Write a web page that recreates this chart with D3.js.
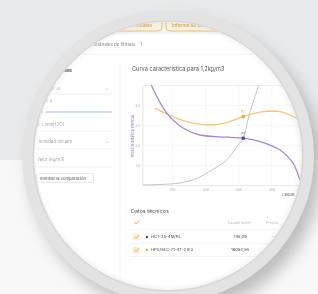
<!DOCTYPE html>
<html>
<head>
<meta charset="utf-8">
<script src="https://cdn.jsdelivr.net/npm/d3@7"></script>
<style>
  html, body { margin: 0; padding: 0; background: #f8f8f8; }
  svg { display: block; font-family: Inter, "Open Sans", sans-serif; }
</style>
</head>
<body>
<div id="chart"></div>
<script>
// chart data
const xTicks = [100, 200, 300, 400];
const yTicks = [1, 2, 3, 4];
const fanHCT = [[37, 5.0], [84, 3.59], [133, 2.85], [184, 2.5], [265, 2.39], [315, 2.34], [366, 2.17], [426, 1.75], [465, 1.1], [486, 0.25]];
const fanHPX = [[48, 3.84], [84, 3.55], [144, 3.17], [214, 3.0], [265, 3.12], [315, 3.42], [375, 3.67], [426, 3.67], [466, 3.42], [500, 3.1]];
const systemCurve = [[12, 0], [70, 0.03], [124, 0.1], [175, 0.33], [205, 0.6], [240, 0.95], [265, 1.25], [293, 1.85], [315, 2.35], [329, 3.25], [344, 4.1], [362, 5.0]];
const opPoints = [{ key: "HCT", label: "P1", v: [315, 2.34] }, { key: "HPX", label: "P2", v: [315, 3.42] }];
const extraDot = [268, 2.39];
const tableNames = ["HCT-25-4M/PL", "HPX/SEC-71-4T-2 IE3"];
const tableCaudal = ["748,09", "16054,56"];
const tablePresion = ["-", ""];
const tableKeys = ["HCT", "HPX"];
const formFields = ["Punto de diseño", "Presión estática (mmH2O)", "Densidad del aire", "Valor (kg/m3)"];

const W = 318, H = 294;
const cx = 168, cy = 156, rOut = 146, rIn = 134;
const colors = { HCT: "#a386da", HPX: "#f7c57a", sys: "#c2c2c2", HCTdark: "#5a3d9e", HPXdark: "#f0a53a" };

const svg = d3.select("#chart").append("svg").attr("width", W).attr("height", H);
const defs = svg.append("defs");

const shadow = defs.append("filter").attr("id", "shadow").attr("x", "-30%").attr("y", "-30%").attr("width", "160%").attr("height", "160%");
shadow.append("feGaussianBlur").attr("stdDeviation", 8);
const soft = defs.append("filter").attr("id", "soft");
soft.append("feGaussianBlur").attr("stdDeviation", 0.35);
const inner = defs.append("filter").attr("id", "inner").attr("x", "-20%").attr("y", "-20%").attr("width", "140%").attr("height", "140%");
inner.append("feGaussianBlur").attr("stdDeviation", 3);

defs.append("clipPath").attr("id", "lens").append("circle").attr("cx", cx).attr("cy", cy).attr("r", rIn);

// background outside the lens
svg.append("rect").attr("width", W).attr("height", H).attr("fill", "#f8f8f8");
svg.append("rect").attr("width", W).attr("height", 160).attr("fill", "#e9eaeb");

// lens frame
svg.append("circle").attr("cx", cx + 8).attr("cy", cy + 10).attr("r", rOut)
  .attr("fill", "#8c8c8c").attr("opacity", 0.55).attr("filter", "url(#shadow)");
svg.append("circle").attr("cx", cx).attr("cy", cy).attr("r", rOut).attr("fill", "#e3e3e3");
svg.append("circle").attr("cx", cx).attr("cy", cy).attr("r", rIn + 1).attr("fill", "none")
  .attr("stroke", "#d4d4d4").attr("stroke-width", 1);

const lens = svg.append("g").attr("clip-path", "url(#lens)");
lens.append("circle").attr("cx", cx).attr("cy", cy).attr("r", rIn).attr("fill", "#fff");

const ui = lens.append("g").attr("filter", "url(#soft)");

// header band with tabs
ui.append("rect").attr("x", 0).attr("y", 0).attr("width", W).attr("height", 34).attr("fill", "#f2f2f2");
ui.append("rect").attr("x", 40).attr("y", 13).attr("width", 122).attr("height", 18).attr("rx", 4)
  .attr("fill", "#fbf4e4").attr("stroke", "#e8b455").attr("stroke-width", 0.8);
ui.append("rect").attr("x", 166).attr("y", 13).attr("width", 110).attr("height", 18).attr("rx", 4)
  .attr("fill", "#fbf4e4").attr("stroke", "#e8b455").attr("stroke-width", 0.8);
ui.append("text").attr("x", 152).attr("y", 26.5).attr("text-anchor", "end")
  .attr("font-size", 4.6).attr("font-weight", 600).attr("fill", "#dca23c").text("Comparar modelo");
ui.append("text").attr("x", 172).attr("y", 26.5)
  .attr("font-size", 4.6).attr("font-weight", 600).attr("fill", "#dca23c").text("Informe de selección");

// filter row
ui.append("text").attr("x", 93).attr("y", 46).attr("font-size", 4.4).attr("fill", "#808080").text("Umbrales de filtrado");
ui.append("text").attr("x", 140).attr("y", 46).attr("font-size", 4.4).attr("fill", "#5b86d6").text("1");
ui.append("rect").attr("x", 60).attr("y", 51.5).attr("width", 8).attr("height", 1).attr("fill", "#5b86d6");
ui.append("line").attr("x1", 20).attr("x2", 310).attr("y1", 54.5).attr("y2", 54.5).attr("stroke", "#eeeeee").attr("stroke-width", 0.6);

// left form panel
ui.append("line").attr("x1", 120).attr("x2", 120).attr("y1", 60).attr("y2", 294).attr("stroke", "#ededed").attr("stroke-width", 0.6);
ui.append("text").attr("x", 72).attr("y", 72).attr("text-anchor", "end").attr("font-size", 5.2)
  .attr("font-weight", 700).attr("fill", "#444").text("Datos iniciales");

const fieldY = [90, 126, 143, 161];
const lineY = [94, 131, 149, 167];
formFields.forEach((f, i) => {
  ui.append("text").attr("x", i === 0 ? 60 : (i === 1 ? 64 : 37)).attr("y", fieldY[i])
    .attr("text-anchor", i < 2 ? "end" : "start").attr("font-size", 4.3).attr("fill", "#a3a3a3").text(f);
  ui.append("line").attr("x1", 20).attr("x2", 112).attr("y1", lineY[i]).attr("y2", lineY[i])
    .attr("stroke", "#e2e2e2").attr("stroke-width", 0.6);
});
[90, 143].forEach(yy => {
  ui.append("path").attr("d", `M105.5,${yy - 1.5}l1.5,1.5l1.5,-1.5`).attr("fill", "none").attr("stroke", "#aaa").attr("stroke-width", 0.5);
});
ui.append("text").attr("x", 52).attr("y", 102).attr("text-anchor", "end").attr("font-size", 3.8).attr("fill", "#6a92da").text("Medio");
ui.append("line").attr("x1", 20).attr("x2", 112).attr("y1", 112).attr("y2", 112).attr("stroke", "#7aa0e4").attr("stroke-width", 0.7);
ui.append("rect").attr("x", 36.5).attr("y", 173.5).attr("width", 57).attr("height", 9).attr("rx", 1.5)
  .attr("fill", "#fff").attr("stroke", "#cfcfcf").attr("stroke-width", 0.5);
ui.append("text").attr("x", 38).attr("y", 179.6).attr("font-size", 4.1).attr("fill", "#555").text("Resetear la comparación");

// chart
const x = d3.scaleLinear().domain([10, 500]).range([142.3, 304.5]);
const y = d3.scaleLinear().domain([0, 5]).range([185, 85]);

ui.append("text").attr("x", 132).attr("y", 71).attr("font-size", 5.6).attr("fill", "#555")
  .text("Curva característica para 1,2kg/m3");

const gx = ui.append("g").attr("transform", "translate(0,185)")
  .call(d3.axisBottom(x).tickValues(xTicks).tickSize(-100).tickPadding(3.5));
gx.select(".domain").attr("stroke", "#e4e4e4").attr("stroke-width", 0.6);
gx.selectAll(".tick line").attr("stroke", "#f2f2f2").attr("stroke-width", 0.6);
gx.selectAll(".tick text").attr("font-size", 3.4).attr("fill", "#b0b0b0").attr("font-family", "Inter, sans-serif");

const gy = ui.append("g").attr("transform", "translate(142.3,0)")
  .call(d3.axisLeft(y).tickValues(yTicks).tickSize(-170).tickPadding(2));
gy.select(".domain").attr("stroke", "#e4e4e4").attr("stroke-width", 0.6);
gy.selectAll(".tick line").attr("stroke", "#f2f2f2").attr("stroke-width", 0.6);
gy.selectAll(".tick text").attr("font-size", 3.4).attr("fill", "#b0b0b0").attr("font-family", "Inter, sans-serif");

ui.append("text").attr("transform", "translate(134,136) rotate(-90)").attr("text-anchor", "middle")
  .attr("font-size", 3.7).attr("fill", "#9274cc").text("Presión estática (mmca)");
ui.append("text").attr("x", 282).attr("y", 196).attr("font-size", 3.8).attr("fill", "#666").text("Caudal");

const line = d3.line().x(d => x(d[0])).y(d => y(d[1])).curve(d3.curveCatmullRom.alpha(0.5));
ui.append("path").datum(systemCurve).attr("d", line).attr("fill", "none").attr("stroke", colors.sys).attr("stroke-width", 1);
ui.append("path").datum(fanHPX).attr("d", line).attr("fill", "none").attr("stroke", colors.HPX).attr("stroke-width", 1.3);
ui.append("path").datum(fanHCT).attr("d", line).attr("fill", "none").attr("stroke", colors.HCT).attr("stroke-width", 1.3);

ui.append("circle").attr("cx", x(extraDot[0])).attr("cy", y(extraDot[1])).attr("r", 1).attr("fill", colors.HPXdark);
opPoints.forEach(p => {
  const c = p.key === "HCT" ? colors.HCTdark : colors.HPXdark;
  ui.append("rect").attr("x", x(p.v[0]) - 1.6).attr("y", y(p.v[1]) - 1.6).attr("width", 3.2).attr("height", 3.2).attr("fill", c);
  ui.append("text").attr("x", x(p.v[0])).attr("y", y(p.v[1]) - 3.5).attr("text-anchor", "middle")
    .attr("font-size", 3.2).attr("fill", c).text(p.label);
});

// technical data table
ui.append("text").attr("x", 131).attr("y", 213).attr("font-size", 5.4).attr("fill", "#555").text("Datos técnicos");
function check(g, px, py, boxed) {
  if (boxed) g.append("rect").attr("x", px - 3.5).attr("y", py - 3.5).attr("width", 7).attr("height", 7).attr("rx", 1.5).attr("fill", "#fdeed6");
  g.append("path").attr("d", `M${px - 2},${py}l1.5,1.6l2.8,-3.2`).attr("fill", "none")
    .attr("stroke", "#f0a53a").attr("stroke-width", 0.9).attr("stroke-linecap", "round").attr("stroke-linejoin", "round");
}
check(ui, 136.5, 222.5, false);
ui.append("text").attr("x", 228).attr("y", 224).attr("font-size", 3.5).attr("fill", "#b5b5b5").text("Caudal (m3/h)");
ui.append("text").attr("x", 266).attr("y", 224).attr("font-size", 3.5).attr("fill", "#b5b5b5").text("Presión");
ui.append("line").attr("x1", 130).attr("x2", 310).attr("y1", 229.5).attr("y2", 229.5).attr("stroke", "#f1f1f1").attr("stroke-width", 0.6);

const rowY = d3.scalePoint().domain(tableNames).range([237, 250]);
tableNames.forEach((n, i) => {
  const ry = rowY(n);
  check(ui, 136.5, ry, true);
  ui.append("circle").attr("cx", 147).attr("cy", ry).attr("r", 1.2).attr("fill", i === 0 ? colors.HCTdark : colors.HPXdark);
  ui.append("text").attr("x", 151).attr("y", ry + 1.4).attr("font-size", 4.1).attr("fill", "#444").text(n);
  ui.append("text").attr("x", 240).attr("y", ry + 1.4).attr("text-anchor", "middle").attr("font-size", 4.1).attr("fill", "#444").text(tableCaudal[i]);
  ui.append("text").attr("x", 273).attr("y", ry + 1.4).attr("text-anchor", "middle").attr("font-size", 4.1).attr("fill", "#444").text(tablePresion[i]);
  ui.append("line").attr("x1", 130).attr("x2", 310).attr("y1", ry + 6.5).attr("y2", ry + 6.5).attr("stroke", "#ececec").attr("stroke-width", 0.6);
});

// inner rim shading and glass highlight
lens.append("circle").attr("cx", cx).attr("cy", cy).attr("r", rIn + 2).attr("fill", "none")
  .attr("stroke", "#cfcfcf").attr("stroke-width", 4).attr("opacity", 0.6).attr("filter", "url(#inner)");
lens.append("path")
  .attr("d", d3.arc().innerRadius(rIn - 4).outerRadius(rIn - 1.5).startAngle(-2.2).endAngle(-1.0)())
  .attr("transform", `translate(${cx},${cy})`).attr("fill", "#ffffff").attr("opacity", 0.9);
</script>
</body>
</html>
